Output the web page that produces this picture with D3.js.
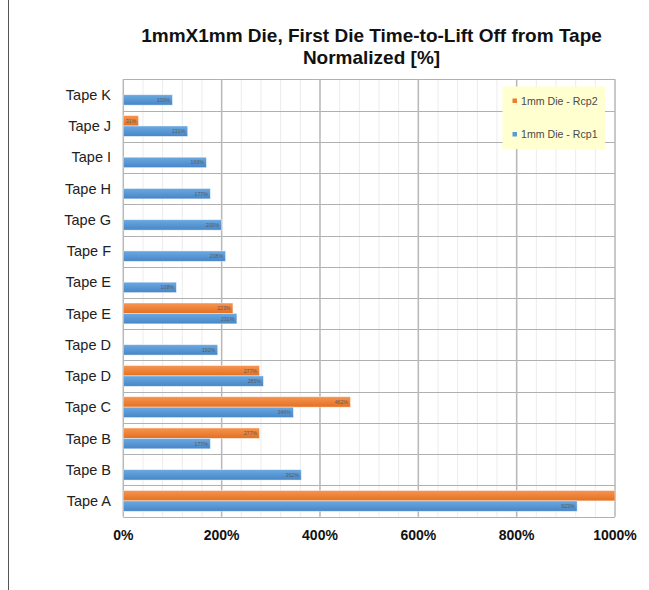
<!DOCTYPE html>
<html>
<head>
<meta charset="utf-8">
<script src="https://cdn.jsdelivr.net/npm/d3@7"></script>
<style>
  html, body { margin: 0; padding: 0; background: #fff; }
  svg { display: block; font-family: "Liberation Sans", Arial, sans-serif; }
</style>
</head>
<body>
<svg id="chart" width="649" height="590"></svg>
<script>
// ---- data (top to bottom) ----
const categories = ["Tape K","Tape J","Tape I","Tape H","Tape G","Tape F","Tape E","Tape E","Tape D","Tape D","Tape C","Tape B","Tape B","Tape A"];
const rcp2Values = [null, 31, null, null, null, null, null, 223, null, 277, 462, 277, null, 1000];
const rcp1Values = [100, 131, 169, 177, 200, 208, 108, 231, 192, 285, 346, 177, 362, 923];
const seriesNames = ["1mm Die - Rcp2", "1mm Die - Rcp1"];
const xTicks = [0, 200, 400, 600, 800, 1000];
const minorTicks = d3.range(0, 1001, 40);
const titleLines = ["1mmX1mm Die, First Die Time-to-Lift Off from Tape", "Normalized [%]"];

(function () {
const svg = d3.select("#chart");
const pL = 123.3, pR = 615, pT = 79.3, pB = 516.7;

// left edge line
svg.append("line").attr("x1", 8.5).attr("x2", 8.5).attr("y1", 0).attr("y2", 590)
  .attr("stroke", "#555").attr("stroke-width", 1);

// gradients
const defs = svg.append("defs");
function grad(id, c1, c2) {
  const g = defs.append("linearGradient").attr("id", id).attr("x1", 0).attr("x2", 0).attr("y1", 0).attr("y2", 1);
  g.append("stop").attr("offset", "0%").attr("stop-color", c1);
  g.append("stop").attr("offset", "100%").attr("stop-color", c2);
}
grad("gOrange", "#f69552", "#e4701f");
grad("gBlue", "#6ba9e1", "#4686c6");
defs.append("clipPath").attr("id", "plotClip").append("rect")
  .attr("x", pL).attr("y", pT).attr("width", pR - pL).attr("height", pB - pT);

const x = d3.scaleLinear().domain([0, 1000]).range([pL, pR]);
const idx = categories.map((c, i) => i);
const y0 = d3.scaleBand().domain(idx).range([pT, pB]).paddingInner(0).paddingOuter(0);
const y1 = d3.scaleBand().domain(["rcp2", "rcp1"]).range([5.0, y0.bandwidth() - 5.4]).padding(0);

// minor vertical grid
svg.append("g").selectAll("line").data(minorTicks).join("line")
  .attr("x1", d => x(d)).attr("x2", d => x(d)).attr("y1", pT).attr("y2", pB)
  .attr("stroke", "#ececec").attr("stroke-width", 1);
// horizontal separators
svg.append("g").selectAll("line").data(d3.range(categories.length + 1)).join("line")
  .attr("x1", pL).attr("x2", pR)
  .attr("y1", d => Math.round(pT + d * y0.step()) + 0.5)
  .attr("y2", d => Math.round(pT + d * y0.step()) + 0.5)
  .attr("stroke", "#b0b0b0").attr("stroke-width", 1.2);
// major vertical grid
svg.append("g").selectAll("line").data(xTicks).join("line")
  .attr("x1", d => x(d)).attr("x2", d => x(d)).attr("y1", pT).attr("y2", pB)
  .attr("stroke", "#b8b8b8").attr("stroke-width", 1.5);

// bars
const rows = [];
idx.forEach(i => {
  if (rcp2Values[i] != null) rows.push({ i, s: "rcp2", v: rcp2Values[i] });
  if (rcp1Values[i] != null) rows.push({ i, s: "rcp1", v: rcp1Values[i] });
});
const barG = svg.append("g").attr("clip-path", "url(#plotClip)");
barG.selectAll("rect").data(rows).join("rect")
  .attr("x", x(0))
  .attr("y", d => y0(d.i) + y1(d.s))
  .attr("width", d => x(d.v) - x(0))
  .attr("height", y1.bandwidth())
  .attr("fill", d => d.s === "rcp2" ? "url(#gOrange)" : "url(#gBlue)")
  .attr("stroke", "rgba(255,255,255,0.55)").attr("stroke-width", 0.8);
barG.selectAll("text").data(rows.filter(d => d.v < 1000)).join("text")
  .attr("x", d => x(d.v) - 2.5)
  .attr("y", d => y0(d.i) + y1(d.s) + y1.bandwidth() / 2 + 2)
  .attr("text-anchor", "end")
  .attr("font-size", 5.2)
  .attr("fill", "#5a5a5a")
  .text(d => d.v + "%");

// y labels
svg.append("g").selectAll("text").data(idx).join("text")
  .attr("x", 111).attr("y", i => y0(i) + y0.bandwidth() / 2 + 5)
  .attr("text-anchor", "end").attr("font-size", 14.5).attr("fill", "#222")
  .text(i => categories[i]);

// x tick labels
svg.append("g").selectAll("text").data(xTicks).join("text")
  .attr("x", d => x(d)).attr("y", 539.5)
  .attr("text-anchor", "middle").attr("font-size", 14).attr("font-weight", "bold").attr("fill", "#111")
  .text(d => d + "%");

// title
svg.append("g").selectAll("text").data(titleLines).join("text")
  .attr("x", 371.5).attr("y", (d, i) => 41.5 + i * 22.5)
  .attr("text-anchor", "middle").attr("font-size", 19).attr("font-weight", "bold").attr("fill", "#111")
  .text(d => d);

// legend
const lg = svg.append("g");
lg.append("rect").attr("x", 502.5).attr("y", 86.5).attr("width", 102.5).attr("height", 62.5).attr("fill", "#ffffcf");
const legendColors = ["#ed7d31", "#5b9bd5"];
seriesNames.forEach((n, i) => {
  const yy = 101 + i * 33.5;
  lg.append("rect").attr("x", 512.5).attr("y", yy - 2.5).attr("width", 4.5).attr("height", 4.5).attr("fill", legendColors[i]);
  lg.append("text").attr("x", 521).attr("y", yy + 3.8).attr("font-size", 10.6).attr("fill", "#4a4a4a").text(n);
});
})();
</script>
</body>
</html>
